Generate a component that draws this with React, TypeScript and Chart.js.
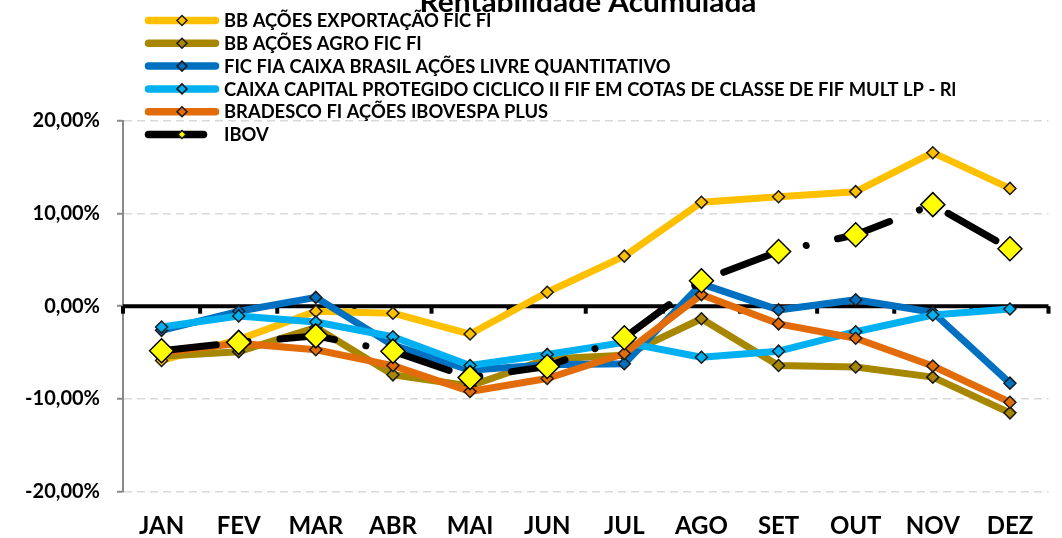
import React, { useEffect, useRef } from 'react';
import { Chart, registerables } from 'chart.js';

Chart.register(...registerables);

const months = ['JAN', 'FEV', 'MAR', 'ABR', 'MAI', 'JUN', 'JUL', 'AGO', 'SET', 'OUT', 'NOV', 'DEZ'];

const seriesNames = [
  'BB AÇÕES EXPORTAÇÃO FIC FI',
  'BB AÇÕES AGRO FIC FI',
  'FIC FIA CAIXA BRASIL AÇÕES LIVRE QUANTITATIVO',
  'CAIXA CAPITAL PROTEGIDO CICLICO II FIF EM COTAS DE CLASSE DE FIF MULT LP - Rl',
  'BRADESCO FI AÇÕES IBOVESPA PLUS',
  'IBOV',
];

const bbExportacao = [-5.85, -3.6, -0.55, -0.75, -3.0, 1.5, 5.4, 11.2, 11.8, 12.35, 16.55, 12.7];
const bbAgro = [-5.4, -4.9, -2.3, -7.4, -8.6, -5.7, -5.3, -1.35, -6.4, -6.55, -7.65, -11.5];
const caixaLivre = [-2.6, -0.55, 0.95, -4.2, -6.9, -6.3, -6.2, 2.4, -0.4, 0.7, -0.65, -8.3];
const caixaCapital = [-2.25, -1.05, -1.7, -3.3, -6.4, -5.2, -3.9, -5.5, -4.85, -2.75, -0.95, -0.3];
const bradesco = [-5.0, -4.0, -4.7, -6.4, -9.2, -7.8, -5.1, 1.25, -1.9, -3.45, -6.45, -10.35];
const ibov = [-4.8, -3.9, -3.2, -4.85, -7.7, -6.5, -3.4, 2.75, 5.9, 7.7, 10.95, 6.2];

const yTicks = [-20, -10, 0, 10, 20];

const seriesData = [bbExportacao, bbAgro, caixaLivre, caixaCapital, bradesco, ibov];
const seriesColors = ['#FFC000', '#A88700', '#0070C0', '#00B0F0', '#E36C0A', '#000000'];
const ibovDash = [55, 32, 0.01, 32];
const FONT = 'Lato, "Open Sans", sans-serif';
const chartTitle = 'Rentabilidade Acumulada';

const fmt = (v: number) => v.toFixed(2).replace('.', ',') + '%';

// draws bold text at a given size, horizontally condensed to match a target width
const drawFitted = (
  ctx: CanvasRenderingContext2D,
  text: string,
  x: number,
  y: number,
  size: number,
  scaleX: number,
  align: 'left' | 'center'
) => {
  ctx.save();
  ctx.font = `bold ${size}px ${FONT}`;
  ctx.textBaseline = 'alphabetic';
  ctx.textAlign = align;
  ctx.fillStyle = '#000';
  ctx.translate(x, y);
  ctx.scale(scaleX, 1);
  ctx.fillText(text, 0, 0);
  ctx.restore();
};

const widthAt = (ctx: CanvasRenderingContext2D, text: string, size: number) => {
  ctx.save();
  ctx.font = `bold ${size}px ${FONT}`;
  const w = ctx.measureText(text).width;
  ctx.restore();
  return w;
};

const axisPlugin = {
  id: 'zeroAxis',
  beforeDatasetsDraw(chart: any) {
    const { ctx, chartArea, scales } = chart;
    const xs = scales.x;
    const ys = scales.y;
    const y0 = ys.getPixelForValue(0);
    ctx.save();
    ctx.strokeStyle = '#000';
    ctx.lineWidth = 4;
    ctx.lineCap = 'butt';
    ctx.beginPath();
    ctx.moveTo(chartArea.left, y0);
    ctx.lineTo(chartArea.right, y0);
    ctx.stroke();
    const p0 = xs.getPixelForValue(0);
    const step = xs.getPixelForValue(1) - p0;
    for (let k = 0; k <= months.length; k++) {
      const x = p0 - step / 2 + k * step;
      ctx.beginPath();
      ctx.moveTo(x, y0);
      ctx.lineTo(x, y0 + 7.5);
      ctx.stroke();
    }
    ctx.restore();
  },
};

const legendPlugin = {
  id: 'customLegend',
  afterDraw(chart: any) {
    const { ctx } = chart;
    const datasets = chart.data.datasets;
    const legendSize = 18.8;
    const legendScale = 732 / widthAt(ctx, seriesNames[3], legendSize);
    datasets.forEach((ds: any, i: number) => {
      const y = 20.5 + i * 22.8;
      ctx.save();
      ctx.strokeStyle = ds.borderColor;
      ctx.lineWidth = 7.5;
      ctx.lineCap = 'round';
      ctx.setLineDash(ds.borderDash || []);
      ctx.beginPath();
      ctx.moveTo(148.5, y);
      ctx.lineTo(215.5, y);
      ctx.stroke();
      ctx.restore();
      const r = i === 5 ? 4 : 5;
      ctx.save();
      ctx.beginPath();
      ctx.moveTo(182 - r, y);
      ctx.lineTo(182, y - r);
      ctx.lineTo(182 + r, y);
      ctx.lineTo(182, y + r);
      ctx.closePath();
      ctx.fillStyle = ds.pointBackgroundColor;
      ctx.fill();
      ctx.lineWidth = 1.5;
      ctx.strokeStyle = '#1a1a1a';
      ctx.stroke();
      ctx.restore();
      drawFitted(ctx, ds.label, 224, y + 0.36 * legendSize, legendSize, legendScale, 'left');
    });
    const titleSize = 29;
    const titleScale = 337 / widthAt(ctx, chartTitle, titleSize);
    drawFitted(ctx, chartTitle, 588, 11.7, titleSize, titleScale, 'center');
  },
};

export default function App() {
  const canvasRef = useRef<HTMLCanvasElement | null>(null);

  useEffect(() => {
    const canvas = canvasRef.current;
    if (!canvas) return;
    const datasets = seriesData.map((data, i) => {
      const isIbov = i === 5;
      const c = seriesColors[i];
      return {
        label: seriesNames[i],
        data,
        borderColor: c,
        backgroundColor: c,
        borderWidth: 7,
        borderCapStyle: 'round' as const,
        borderJoinStyle: 'round' as const,
        borderDash: isIbov ? ibovDash : [],
        tension: 0,
        fill: false,
        pointStyle: 'rectRot' as const,
        pointRadius: isIbov ? 12 : 6,
        pointBackgroundColor: isIbov ? '#FFFF00' : c,
        pointBorderColor: isIbov ? '#000000' : '#1a1a1a',
        pointBorderWidth: 1.5,
        order: 5 - i,
      };
    });

    const chart = new Chart(canvas, {
      type: 'line',
      data: { labels: months, datasets },
      plugins: [axisPlugin, legendPlugin],
      options: {
        animation: false,
        responsive: false,
        events: [],
        layout: { padding: { top: 120.7, right: 12, left: 0, bottom: 0 } },
        plugins: {
          legend: { display: false },
          title: { display: false },
          tooltip: { enabled: false },
        },
        scales: {
          x: {
            type: 'category',
            offset: true,
            grid: { display: false, drawTicks: false },
            border: { display: false },
            ticks: {
              color: '#000',
              font: { family: FONT, weight: 'bold', size: 24 },
              padding: 20,
              maxRotation: 0,
              autoSkip: false,
            },
            afterFit: (s: any) => {
              s.height = 538 - 491.7;
            },
          },
          y: {
            min: -20,
            max: 20,
            afterBuildTicks: (s: any) => {
              s.ticks = yTicks.map((v) => ({ value: v }));
            },
            ticks: {
              color: '#000',
              font: { family: FONT, weight: 'bold', size: 20 },
              padding: 17,
              callback: (v: any) => fmt(Number(v)),
            },
            grid: {
              color: (ctx: any) => (ctx.tick && ctx.tick.value === 0 ? 'rgba(0,0,0,0)' : '#D9D9D9'),
              lineWidth: 1.5,
              drawTicks: true,
              tickLength: 6,
              tickColor: '#898989',
              tickWidth: 2,
            },
            border: { display: true, color: '#898989', width: 2, dash: [8, 5] },
            afterFit: (s: any) => {
              s.width = 123;
            },
          },
        },
      } as any,
    });
    return () => chart.destroy();
  }, []);

  return (
    <div style={{ position: 'fixed', left: 0, top: 0, width: 1062, height: 538, background: '#fff' }}>
      <canvas ref={canvasRef} width={1062} height={538} style={{ display: 'block' }} />
    </div>
  );
}
